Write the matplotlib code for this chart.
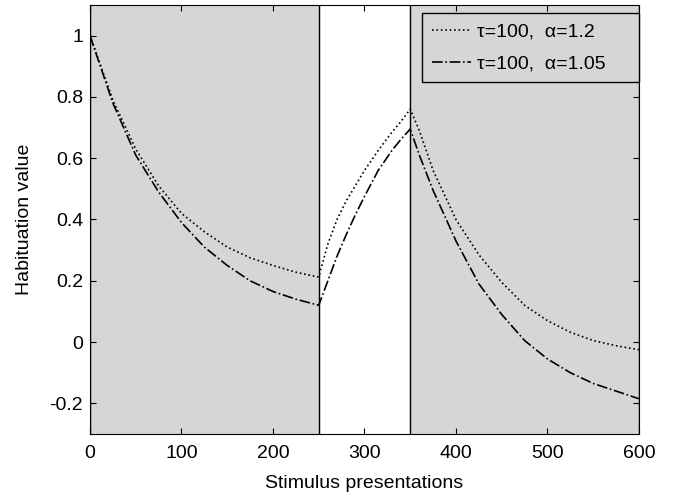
import matplotlib.pyplot as plt

plt.rcParams['font.family'] = ['Liberation Sans', 'DejaVu Sans']

# stimulus number (shared x positions for both curves)
stim = [0, 25, 50, 75, 100, 125, 150, 175, 200, 225, 250,
        260, 270, 280, 290, 300, 315, 330, 340,
        350, 360, 375, 400, 425, 450, 475, 500, 525, 550, 575, 600]

# tau=100, alpha=1.2 (dotted)
h_a12 = [1.0, 0.79, 0.63, 0.51, 0.42, 0.36, 0.31, 0.275, 0.25, 0.228, 0.212,
         0.32, 0.40, 0.46, 0.51, 0.56, 0.625, 0.685, 0.72,
         0.76, 0.69, 0.56, 0.40, 0.285, 0.195, 0.12, 0.07, 0.032, 0.005, -0.012, -0.025]

# tau=100, alpha=1.05 (dash-dot)
h_a105 = [1.0, 0.78, 0.61, 0.49, 0.39, 0.31, 0.25, 0.20, 0.165, 0.14, 0.12,
          0.20, 0.28, 0.35, 0.415, 0.475, 0.56, 0.625, 0.662,
          0.695, 0.61, 0.495, 0.33, 0.19, 0.09, 0.005, -0.055, -0.10, -0.135, -0.16, -0.185]

# stimulation blocks (shaded)
blocks = [(0, 250), (350, 600)]
labels = [u'\u03c4=100,  \u03b1=1.2', u'\u03c4=100,  \u03b1=1.05']

gray = '#d6d6d6'

fig = plt.figure(figsize=(6.75, 4.96), dpi=100)
ax = fig.add_axes([0.1333, 0.125, 0.8133, 0.865])

for b0, b1 in blocks:
    ax.axvspan(b0, b1, color=gray, zorder=0)
    ax.axvline(b0, color='black', lw=1, zorder=1)
    ax.axvline(b1, color='black', lw=1, zorder=1)

ax.plot(stim, h_a12, ':', color='black', lw=1.2, label=labels[0])
ax.plot(stim, h_a105, '-.', color='black', lw=1.2, label=labels[1])

ax.set_xlim(0, 600)
ax.set_ylim(-0.3, 1.1)
ax.set_xticks([0, 100, 200, 300, 400, 500, 600])
ax.set_yticks([-0.2, 0, 0.2, 0.4, 0.6, 0.8, 1])
ax.set_yticklabels(['-0.2', '0', '0.2', '0.4', '0.6', '0.8', '1'])
ax.tick_params(direction='in', top=True, right=True, labelsize=14, length=4)
ax.tick_params(axis='x', pad=8)
ax.tick_params(axis='y', pad=5)
ax.set_xlabel('Stimulus presentations', fontsize=14, labelpad=9)
ax.set_ylabel('Habituation value', fontsize=14, labelpad=12)

leg = ax.legend(loc='upper left', bbox_to_anchor=(0.605, 0.82, 0.395, 0.161),
                mode='expand', borderaxespad=0,
                fontsize=14, fancybox=False, framealpha=1, facecolor=gray,
                edgecolor='black', handlelength=2.0, handletextpad=0.3,
                labelspacing=0.75, borderpad=0.5)
leg.get_frame().set_linewidth(1)

fig.savefig('out.png', dpi=100)
